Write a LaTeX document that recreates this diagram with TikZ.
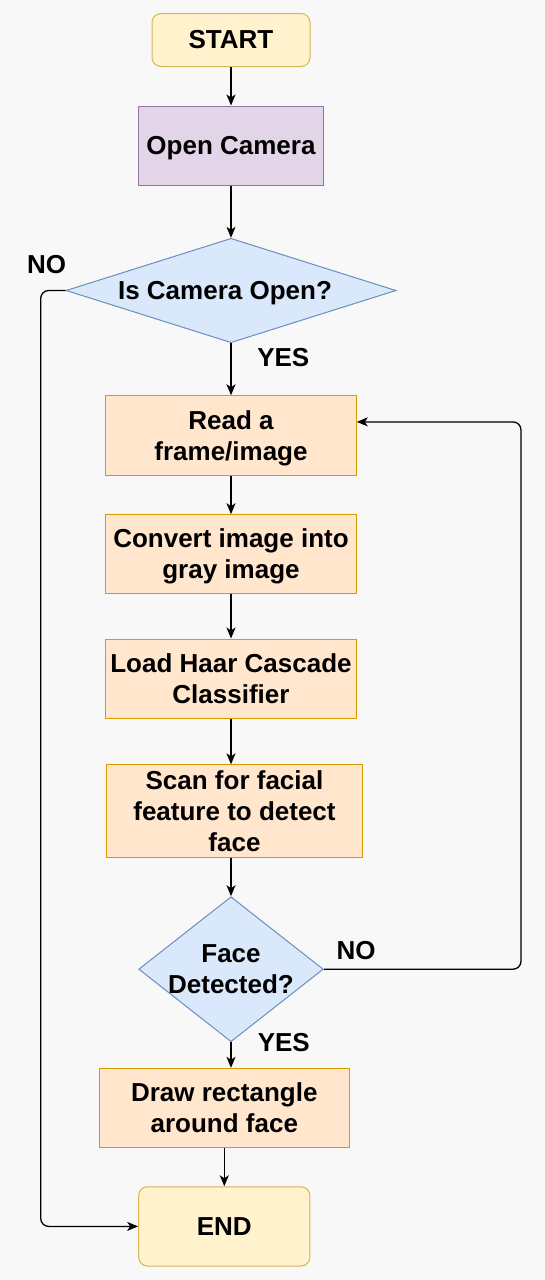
\documentclass[tikz,border=0pt]{standalone}
\usepackage{fontspec}
\setmainfont{Liberation Sans}
\usetikzlibrary{shapes.geometric, arrows.meta, calc}
\definecolor{bg}{HTML}{F8F8F8}
\definecolor{termF}{HTML}{FFF2CC}
\definecolor{termD}{HTML}{D6B656}
\definecolor{purF}{HTML}{E1D5E7}
\definecolor{purD}{HTML}{9673A6}
\definecolor{decF}{HTML}{DAE8FC}
\definecolor{decD}{HTML}{6C8EBF}
\definecolor{procF}{HTML}{FFE6CC}
\definecolor{procD}{HTML}{D79B00}
\newcommand{\zdp}[1]{\raisebox{0pt}[\height][0pt]{#1}}
\begin{document}
\begin{tikzpicture}[x=1pt,y=-1pt,
  base/.style={font=\fontsize{26}{31}\selectfont\bfseries, inner sep=0pt, align=center},
  term/.style={base, draw=termD, fill=termF, rounded corners=9pt, line width=1pt},
  purbox/.style={base, draw=purD, fill=purF, line width=1pt},
  proc/.style={base, draw=procD, fill=procF, line width=1pt},
  dec/.style={diamond, draw=decD, fill=decF, line width=1pt, inner sep=0pt},
  lbl/.style={font=\fontsize{26}{31}\selectfont\bfseries, inner sep=0pt, align=center},
  arr/.style={draw=black, line width=1.3pt, -{Stealth[length=11pt,width=9pt,inset=3pt]}}
]
\fill[bg] (0,0) rectangle (545,1280);
\useasboundingbox (0,0) rectangle (545,1280);

\node[term, minimum width=158pt, minimum height=53pt] (start) at (231,40) {START};
\node[purbox, minimum width=184.6pt, minimum height=79pt] (open) at (231,145.5) {\zdp{Open Camera}};
\node[dec, minimum width=330pt, minimum height=104.4pt,
      label={[lbl, xshift=-6pt]center:\zdp{Is Camera Open?}}] (d1) at (231,290.5) {};
\node[proc, minimum width=250.6pt, minimum height=79.3pt] (read) at (231,435.4) {Read a\\\zdp{frame/image}};
\node[proc, minimum width=250.6pt, minimum height=78.6pt] (conv) at (231,554) {Convert image into\\\zdp{gray image}};
\node[proc, minimum width=250.6pt, minimum height=79pt] (load) at (231,678.5) {Load Haar Cascade\\Classifier};
\node[proc, minimum width=256.7pt, minimum height=92.3pt] (scan) at (234.5,811) {Scan for facial\\feature to detect\\face};
\node[dec, minimum width=184.6pt, minimum height=145pt,
      label={[lbl]center:Face\\Detected?}] (fd) at (231,969.2) {};
\node[proc, minimum width=250pt, minimum height=79pt] (drawr) at (224.3,1107.8) {Draw rectangle\\around face};
\node[term, minimum width=171.3pt, minimum height=79.3pt] (endn) at (224.3,1226.4) {END};

\node[lbl] (no1) at (46.7,265) {NO};
\node[lbl] (yes1) at (283.3,357.5) {YES};
\node[lbl] (no2) at (356,950.8) {NO};
\node[lbl] (yes2) at (283.8,1042.8) {YES};

\coordinate (lx) at (40.7,0);
\coordinate (rx) at (521,0);
\coordinate (rin) at ([yshift=13.5pt]read.east);

\draw[arr] (start) -- (open);
\draw[arr] (open) -- (d1);
\draw[arr] (d1) -- (read);
\draw[arr] (read) -- (conv);
\draw[arr] (conv) -- (load);
\draw[arr] (load.south) -- (load.south |- scan.north);
\draw[arr] (scan.south -| fd.north) -- (fd.north);
\draw[arr] (fd.south) -- (fd.south |- drawr.north);
\draw[arr] (drawr) -- (endn);
\draw[arr, rounded corners=8pt] (d1.west) -- (d1.west -| lx) -- (endn.west -| lx) -- (endn.west);
\draw[arr, rounded corners=8pt] (fd.east) -- (fd.east -| rx) -- (rin -| rx) -- (rin);
\end{tikzpicture}
\end{document}
